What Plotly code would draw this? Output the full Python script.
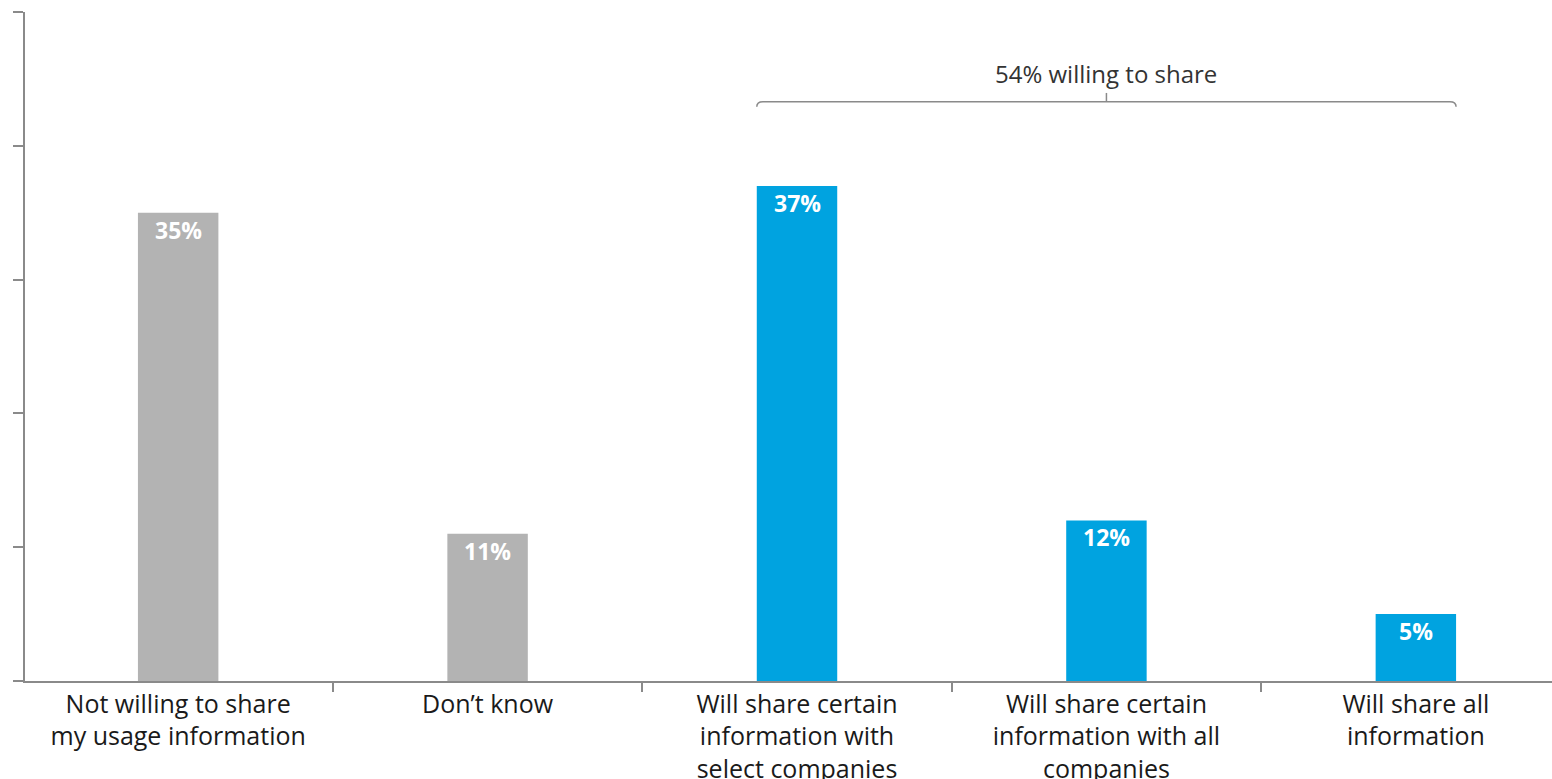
import plotly.graph_objects as go

categories = [
    "Not willing to share<br>my usage information",
    "Don’t know",
    "Will share certain<br>information with<br>select companies",
    "Will share certain<br>information with all<br>companies",
    "Will share all<br>information",
]
values = [35, 11, 37, 12, 5]
bar_colors = ["#b3b3b3", "#b3b3b3", "#00a3e0", "#00a3e0", "#00a3e0"]
value_labels = [f"{v}%" for v in values]
bracket_text = "54% willing to share"

FONT = "Open Sans"
AXIS_GREY = "#8a8a8a"
BAR_WIDTH = 0.26

fig = go.Figure()
fig.add_trace(go.Bar(
    x=categories,
    y=values,
    width=BAR_WIDTH,
    marker=dict(color=bar_colors, line=dict(width=0)),
    hoverinfo="skip",
))

# value labels inside the top of each bar
for cat, v, lab in zip(categories, values, value_labels):
    fig.add_annotation(
        x=cat, y=v, text=f"<b>{lab}</b>", showarrow=False,
        yanchor="top", yshift=1,
        font=dict(family=FONT, size=23, color="white"),
    )

# bracket spanning the "willing to share" bars (category positions 2..4)
b_left = 2 - BAR_WIDTH / 2
b_right = 4 + BAR_WIDTH / 2
b_mid = (b_left + b_right) / 2
b_y = 43.3
drop = 0.38
rx = 0.02
path = (
    f"M {b_left},{b_y - drop} Q {b_left},{b_y} {b_left + rx},{b_y} "
    f"L {b_right - rx},{b_y} Q {b_right},{b_y} {b_right},{b_y - drop}"
)
fig.add_shape(type="path", path=path, xref="x", yref="y",
              line=dict(color=AXIS_GREY, width=1.5))
fig.add_shape(type="line", x0=b_mid, x1=b_mid, y0=b_y, y1=b_y + 0.65,
              xref="x", yref="y", line=dict(color=AXIS_GREY, width=1.5))
fig.add_annotation(
    x=b_mid, y=b_y, text=bracket_text, showarrow=False,
    yanchor="bottom", yshift=10,
    font=dict(family=FONT, size=24, color="#333333"),
)

fig.update_layout(
    width=1552, height=779,
    margin=dict(l=25, r=0, t=12, b=98),
    paper_bgcolor="white", plot_bgcolor="white",
    showlegend=False,
    font=dict(family=FONT, color="#1a1a1a"),
)
fig.update_xaxes(
    type="category",
    range=[-0.495, 4.44],
    tickson="boundaries", ticks="outside", ticklen=9, tickwidth=1.5,
    tickcolor=AXIS_GREY,
    showline=True, linecolor=AXIS_GREY, linewidth=1.5,
    showgrid=False, zeroline=False, automargin=False,
    tickfont=dict(family=FONT, size=25, color="#1a1a1a"),
)
fig.update_yaxes(
    range=[0, 50], tickvals=[0, 10, 20, 30, 40, 50],
    showticklabels=False, ticks="outside", ticklen=10, tickwidth=1.5,
    tickcolor=AXIS_GREY,
    showline=True, linecolor=AXIS_GREY, linewidth=1.5,
    showgrid=False, zeroline=False, automargin=False,
)

fig.write_html("out.html")
